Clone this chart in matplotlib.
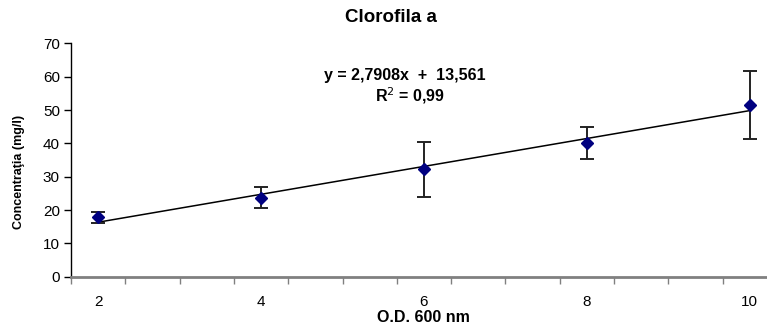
import matplotlib
matplotlib.use("Agg")
import matplotlib.pyplot as plt
import numpy as np

plt.rcParams['font.family'] = ['Liberation Sans', 'DejaVu Sans']

# category slots used by the original sheet (labels 2,4,6,8,10 on every 3rd slot)
slots = [1, 4, 7, 10, 13]
od_labels = ['2', '4', '6', '8', '10']
conc = [17.8, 23.7, 32.2, 40.1, 51.5]
err = [1.7, 3.1, 8.2, 4.8, 10.3]

slope = 2.7908
intercept = 13.561

W, H = 767, 325
fig = plt.figure(figsize=(W / 100, H / 100), dpi=100)
x0, x1 = 71, 777
y0, y1 = 276.7, 43.4
ax = fig.add_axes([x0 / W, 1 - y0 / H, (x1 - x0) / W, (y0 - y1) / H])
ax.set_xlim(0.5, 13.5)
ax.set_ylim(0, 70)

# trendline
xt = np.array([slots[0], slots[-1]])
ax.plot(xt, slope * xt + intercept, color='black', lw=1.1, zorder=2)

ax.errorbar(slots, conc, yerr=err, fmt='D', color='#000080', ms=6,
            ecolor='#222222', elinewidth=1.4, capsize=5, capthick=1.4, zorder=3)

for s in ['top', 'right']:
    ax.spines[s].set_visible(False)
ax.spines['left'].set_color('black')
ax.spines['left'].set_linewidth(1.0)
ax.spines['bottom'].set_color('#808080')
ax.spines['bottom'].set_linewidth(2.0)

ax.set_yticks(range(0, 71, 10))
ax.tick_params(axis='y', direction='out', length=5, width=1, color='black',
               labelsize=11, pad=3)
ax.set_xticks(np.arange(0.5, 14, 1))
ax.set_xticklabels([])
ax.set_xticks(slots, minor=True)
ax.set_xticklabels(od_labels, minor=True)
ax.tick_params(axis='x', which='major', direction='out', length=5, width=1,
               color='#808080')
ax.tick_params(axis='x', which='minor', length=0, labelsize=11, pad=13)

fig.text(391 / W, 1 - 18 / H, 'Clorofila a', ha='center', va='center',
         fontsize=13.5, fontweight='bold')
fig.text(423 / W, 1 - 317 / H, 'O.D. 600 nm', ha='center', va='center',
         fontsize=11.5, fontweight='bold')
fig.text(19 / W, 1 - 172 / H, 'Concentraţia (mg/l)', ha='center', va='center',
         rotation=90, fontsize=9, fontweight='bold')

fig.text(405 / W, 1 - 75 / H, 'y = 2,7908x  +  13,561', ha='center', va='center',
         fontsize=11.5, fontweight='bold')
fig.text(410 / W, 1 - 96 / H, 'R$^2$ = 0,99', ha='center', va='center',
         fontsize=11.5, fontweight='bold')

fig.savefig('out.png', dpi=100)
